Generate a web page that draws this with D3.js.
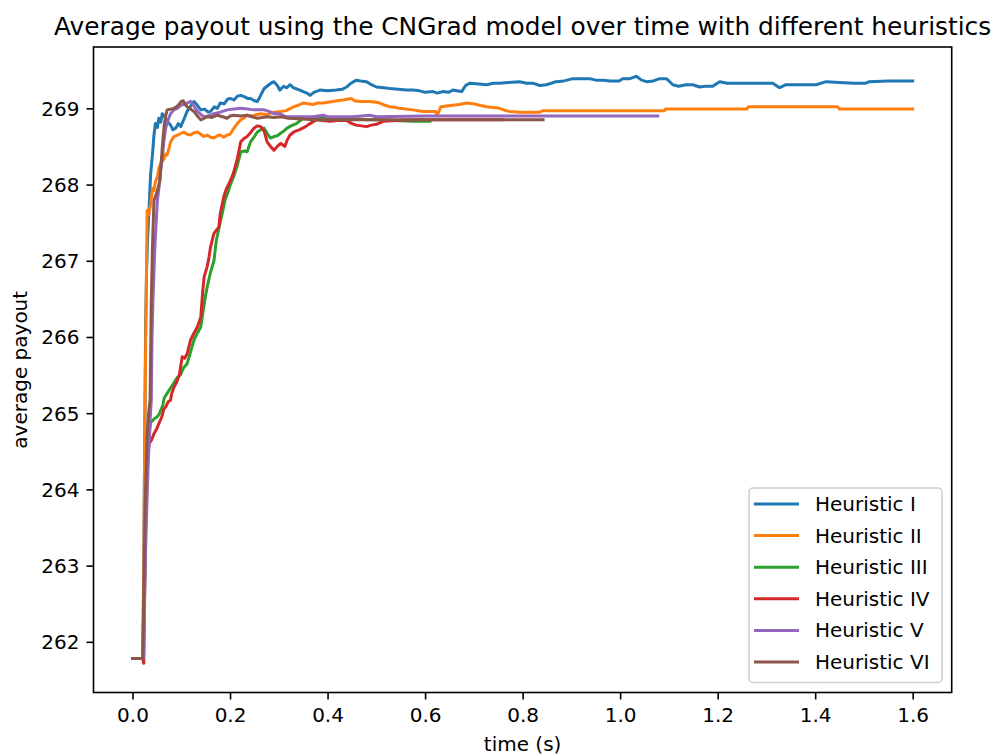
<!DOCTYPE html>
<html>
<head>
<meta charset="utf-8">
<script src="https://cdn.jsdelivr.net/npm/d3@7"></script>
<style>
  html, body { margin: 0; padding: 0; background: #fff; }
  svg text { font-family: "DejaVu Sans", sans-serif; fill: #000; }
</style>
</head>
<body>
<svg id="chart" width="996" height="756"></svg>
<script>
// Average payout [t (s), payout] for each heuristic
const heuristicI = [[0,261.78],[0.021,261.78],[0.023,263.0],[0.025,264.6],[0.027,266.2],[0.029,266.9],[0.031,267.3],[0.034,267.69],[0.037,268.12],[0.041,268.4],[0.044,268.65],[0.047,268.8],[0.051,268.75],[0.054,268.87],[0.058,268.82],[0.061,268.93],[0.065,268.9],[0.068,268.87],[0.073,268.82],[0.078,268.78],[0.083,268.72],[0.0885,268.74],[0.094,268.8],[0.099,268.76],[0.105,268.85],[0.112,268.96],[0.118,269.02],[0.126,269.09],[0.133,269.04],[0.14,268.98],[0.148,268.99],[0.155,268.95],[0.16,268.96],[0.168,269.02],[0.174,269.0],[0.18,269.07],[0.188,269.06],[0.195,269.12],[0.2,269.13],[0.208,269.11],[0.215,269.16],[0.222,269.17],[0.23,269.15],[0.236,269.13],[0.242,269.13],[0.25,269.1],[0.256,269.09],[0.262,269.16],[0.27,269.26],[0.278,269.3],[0.284,269.33],[0.29,269.35],[0.297,269.3],[0.302,269.24],[0.31,269.29],[0.316,269.27],[0.323,269.31],[0.33,269.27],[0.343,269.24],[0.35,269.22],[0.358,269.2],[0.364,269.17],[0.372,269.21],[0.384,269.24],[0.4,269.23],[0.418,269.24],[0.43,269.25],[0.439,269.28],[0.448,269.33],[0.459,269.37],[0.468,269.36],[0.48,269.35],[0.49,269.31],[0.5,269.28],[0.515,269.27],[0.528,269.26],[0.545,269.25],[0.562,269.24],[0.575,269.24],[0.589,269.23],[0.6,269.21],[0.616,269.22],[0.625,269.2],[0.636,269.22],[0.648,269.21],[0.657,269.24],[0.665,269.23],[0.675,269.22],[0.683,269.3],[0.692,269.33],[0.71,269.32],[0.726,269.31],[0.74,269.33],[0.753,269.33],[0.77,269.34],[0.794,269.35],[0.808,269.33],[0.821,269.33],[0.835,269.3],[0.849,269.31],[0.869,269.35],[0.885,269.36],[0.903,269.39],[0.92,269.39],[0.9375,269.39],[0.95,269.37],[0.965,269.37],[0.98,269.36],[0.999,269.36],[1.005,269.39],[1.02,269.39],[1.033,269.42],[1.044,269.37],[1.054,269.35],[1.068,269.36],[1.081,269.39],[1.095,269.39],[1.108,269.31],[1.12,269.29],[1.135,269.31],[1.149,269.31],[1.163,269.28],[1.175,269.29],[1.19,269.29],[1.204,269.35],[1.22,269.33],[1.24,269.33],[1.272,269.33],[1.29,269.33],[1.313,269.33],[1.327,269.27],[1.34,269.31],[1.37,269.31],[1.402,269.31],[1.4225,269.35],[1.45,269.34],[1.48,269.33],[1.504,269.33],[1.511,269.35],[1.55,269.36],[1.6,269.36]];

const heuristicII = [[0,261.78],[0.021,261.78],[0.023,262.6],[0.024,263.8],[0.025,264.6],[0.026,265.3],[0.028,266.5],[0.03,267.66],[0.033,267.6],[0.037,267.73],[0.041,267.95],[0.044,267.92],[0.047,268.04],[0.051,268.1],[0.054,268.21],[0.058,268.28],[0.065,268.34],[0.068,268.4],[0.071,268.39],[0.075,268.48],[0.078,268.56],[0.085,268.63],[0.092,268.65],[0.099,268.67],[0.105,268.69],[0.112,268.66],[0.119,268.65],[0.126,268.68],[0.133,268.69],[0.14,268.66],[0.146,268.63],[0.153,268.65],[0.16,268.62],[0.167,268.61],[0.174,268.64],[0.18,268.65],[0.187,268.62],[0.194,268.65],[0.2,268.66],[0.208,268.74],[0.215,268.8],[0.222,268.85],[0.23,268.88],[0.235,268.91],[0.245,268.9],[0.255,268.92],[0.263,268.93],[0.275,268.92],[0.29,268.95],[0.304,268.96],[0.315,268.97],[0.33,269.02],[0.34,269.04],[0.35,269.07],[0.36,269.06],[0.37,269.05],[0.38,269.07],[0.391,269.07],[0.4,269.08],[0.411,269.09],[0.42,269.1],[0.432,269.11],[0.44,269.12],[0.449,269.13],[0.455,269.1],[0.466,269.09],[0.487,269.09],[0.5,269.08],[0.507,269.07],[0.518,269.04],[0.528,269.02],[0.54,269.01],[0.548,269.0],[0.56,268.99],[0.575,268.98],[0.596,268.96],[0.616,268.96],[0.622,268.96],[0.624,268.91],[0.628,268.95],[0.632,269.02],[0.645,269.03],[0.657,269.04],[0.67,269.05],[0.685,269.07],[0.698,269.06],[0.712,269.04],[0.726,269.02],[0.74,269.01],[0.753,269.0],[0.765,268.97],[0.774,268.96],[0.794,268.95],[0.835,268.95],[0.842,268.97],[1.091,268.97],[1.093,268.99],[1.26,268.99],[1.263,269.02],[1.446,269.02],[1.45,268.99],[1.6,268.99]];

const heuristicIII = [[0,261.78],[0.021,261.78],[0.023,262.2],[0.025,262.9],[0.027,263.6],[0.029,264.1],[0.031,264.4],[0.034,264.7],[0.037,264.88],[0.041,264.9],[0.045,264.93],[0.05,264.95],[0.054,264.98],[0.058,265.04],[0.062,265.1],[0.065,265.2],[0.07,265.25],[0.075,265.3],[0.08,265.35],[0.086,265.41],[0.092,265.47],[0.098,265.5],[0.105,265.6],[0.112,265.65],[0.118,265.78],[0.126,265.96],[0.133,266.05],[0.14,266.13],[0.145,266.35],[0.15,266.55],[0.153,266.65],[0.16,266.85],[0.167,267.0],[0.172,267.27],[0.178,267.45],[0.184,267.62],[0.19,267.8],[0.197,267.92],[0.2,267.99],[0.207,268.1],[0.215,268.25],[0.222,268.43],[0.23,268.44],[0.235,268.43],[0.242,268.56],[0.25,268.63],[0.256,268.69],[0.263,268.72],[0.27,268.74],[0.277,268.66],[0.283,268.61],[0.29,268.63],[0.297,268.64],[0.305,268.68],[0.31,268.7],[0.317,268.74],[0.325,268.77],[0.336,268.8],[0.35,268.87],[0.37,268.87],[0.391,268.88],[0.41,268.87],[0.439,268.86],[0.46,268.86],[0.48,268.85],[0.51,268.85],[0.54,268.84],[0.575,268.83],[0.61,268.83]];

const heuristicIV = [[0,261.78],[0.021,261.78],[0.023,261.72],[0.024,262.3],[0.026,263.2],[0.028,263.8],[0.03,264.2],[0.032,264.45],[0.034,264.6],[0.039,264.65],[0.044,264.73],[0.05,264.8],[0.055,264.88],[0.06,264.95],[0.064,265.05],[0.068,265.08],[0.073,265.15],[0.078,265.17],[0.08,265.25],[0.085,265.34],[0.09,265.4],[0.096,265.5],[0.102,265.74],[0.107,265.72],[0.112,265.78],[0.119,265.96],[0.126,266.05],[0.133,266.13],[0.14,266.26],[0.144,266.6],[0.147,266.79],[0.153,266.92],[0.157,267.05],[0.16,267.18],[0.167,267.36],[0.172,267.4],[0.177,267.44],[0.18,267.62],[0.1875,267.85],[0.193,267.95],[0.2,268.04],[0.207,268.15],[0.215,268.34],[0.222,268.56],[0.228,268.6],[0.235,268.63],[0.242,268.68],[0.249,268.74],[0.256,268.77],[0.263,268.76],[0.27,268.7],[0.276,268.56],[0.283,268.5],[0.29,268.45],[0.297,268.5],[0.304,268.54],[0.3125,268.5],[0.317,268.58],[0.323,268.65],[0.331,268.69],[0.343,268.72],[0.355,268.76],[0.364,268.8],[0.377,268.85],[0.39,268.84],[0.405,268.83],[0.42,268.84],[0.439,268.84],[0.45,268.8],[0.459,268.78],[0.48,268.76],[0.49,268.78],[0.5,268.79],[0.514,268.83],[0.54,268.84],[0.575,268.85],[0.62,268.85],[0.671,268.85],[0.72,268.85],[0.76,268.85]];

const heuristicV = [[0,261.78],[0.021,261.78],[0.023,261.8],[0.025,262.6],[0.028,263.5],[0.032,264.3],[0.036,264.9],[0.0385,265.17],[0.04,266.0],[0.042,266.5],[0.046,267.2],[0.051,267.79],[0.055,268.0],[0.058,268.2],[0.061,268.34],[0.064,268.55],[0.068,268.74],[0.073,268.85],[0.078,268.93],[0.085,268.98],[0.092,269.0],[0.099,269.04],[0.105,269.05],[0.112,269.07],[0.119,269.09],[0.126,269.03],[0.133,268.96],[0.14,268.92],[0.147,268.89],[0.155,268.9],[0.167,268.93],[0.18,268.95],[0.194,268.98],[0.208,268.99],[0.222,269.0],[0.236,268.99],[0.249,268.98],[0.27,268.98],[0.28,268.96],[0.29,268.93],[0.302,268.93],[0.315,268.89],[0.34,268.89],[0.37,268.89],[0.38,268.9],[0.391,268.91],[0.4,268.89],[0.43,268.89],[0.452,268.89],[0.487,268.91],[0.5,268.89],[0.6,268.9],[0.8,268.9],[1.077,268.9]];

const heuristicVI = [[0,261.78],[0.021,261.78],[0.023,262.5],[0.026,263.8],[0.03,264.7],[0.033,265.0],[0.036,265.17],[0.0385,266.48],[0.041,267.2],[0.044,267.79],[0.05,267.9],[0.056,268.04],[0.061,268.48],[0.065,268.78],[0.068,268.9],[0.071,268.98],[0.078,268.99],[0.085,269.0],[0.09,269.02],[0.095,269.05],[0.1,269.09],[0.104,269.1],[0.108,269.05],[0.112,269.02],[0.119,268.99],[0.126,268.96],[0.133,268.9],[0.14,268.85],[0.147,268.87],[0.153,268.89],[0.163,268.88],[0.174,268.91],[0.185,268.89],[0.194,268.87],[0.2,268.9],[0.208,268.91],[0.222,268.9],[0.235,268.91],[0.245,268.89],[0.256,268.87],[0.266,268.88],[0.276,268.89],[0.29,268.88],[0.304,268.89],[0.32,268.87],[0.35,268.86],[0.37,268.85],[0.45,268.85],[0.6,268.85],[0.842,268.85]];

const seriesNames = ["Heuristic I", "Heuristic II", "Heuristic III", "Heuristic IV", "Heuristic V", "Heuristic VI"];
const seriesData = [heuristicI, heuristicII, heuristicIII, heuristicIV, heuristicV, heuristicVI];
const seriesColors = ["#1f77b4", "#ff7f0e", "#2ca02c", "#d62728", "#9467bd", "#8c564b"];

const xTicks = [0, 0.2, 0.4, 0.6, 0.8, 1.0, 1.2, 1.4, 1.6];
const yTicks = [262, 263, 264, 265, 266, 267, 268, 269];

const titleText = "Average payout using the CNGrad model over time with different heuristics";
const xLabel = "time (s)";
const yLabel = "average payout";

// Plot frame
const plot = { left: 93.5, right: 951.7, top: 47, bottom: 692.5 };
const svg = d3.select("#chart");

// Domains padded by 5% of the data span on each side
const allPts = seriesData.flat();
const pad = ([lo, hi]) => { const m = (hi - lo) * 0.05; return [lo - m, hi + m]; };
const x = d3.scaleLinear().domain(pad(d3.extent(allPts, d => d[0]))).range([plot.left, plot.right]);
const y = d3.scaleLinear().domain(pad(d3.extent(allPts, d => d[1]))).range([plot.bottom, plot.top]);

svg.append("clipPath").attr("id", "plotClip")
  .append("rect")
  .attr("x", plot.left).attr("y", plot.top)
  .attr("width", plot.right - plot.left).attr("height", plot.bottom - plot.top);

// Lines
const line = d3.line().x(d => x(d[0])).y(d => y(d[1]));
const lines = svg.append("g").attr("clip-path", "url(#plotClip)");
seriesData.forEach((data, i) => {
  lines.append("path")
    .datum(data)
    .attr("d", line)
    .attr("fill", "none")
    .attr("stroke", seriesColors[i])
    .attr("stroke-width", 3)
    .attr("stroke-linejoin", "round")
    .attr("stroke-linecap", "square");
});

// Axes
const xAxis = d3.axisBottom(x).tickValues(xTicks).tickFormat(d3.format(".1f")).tickSize(7).tickPadding(7).tickSizeOuter(0);
const yAxis = d3.axisLeft(y).tickValues(yTicks).tickFormat(d3.format("d")).tickSize(7).tickPadding(7).tickSizeOuter(0);

const gx = svg.append("g").attr("transform", `translate(0,${plot.bottom})`).call(xAxis);
const gy = svg.append("g").attr("transform", `translate(${plot.left},0)`).call(yAxis);
[gx, gy].forEach(g => {
  g.select(".domain").remove();
  g.selectAll(".tick line").attr("stroke", "#000").attr("stroke-width", 1.6);
  g.selectAll(".tick text").attr("font-size", 20).attr("font-family", "DejaVu Sans").attr("fill", "#000");
});
gx.selectAll(".tick text").attr("dy", "0.78em");
gy.selectAll(".tick text").attr("dy", "0.35em");

// Spines
svg.append("rect")
  .attr("x", plot.left).attr("y", plot.top)
  .attr("width", plot.right - plot.left).attr("height", plot.bottom - plot.top)
  .attr("fill", "none").attr("stroke", "#000").attr("stroke-width", 1.6);

// Title and axis labels
svg.append("text")
  .attr("x", (plot.left + plot.right) / 2).attr("y", 35)
  .attr("text-anchor", "middle").attr("font-size", 24.8)
  .text(titleText);

svg.append("text")
  .attr("x", (plot.left + plot.right) / 2).attr("y", 751)
  .attr("text-anchor", "middle").attr("font-size", 20)
  .text(xLabel);

svg.append("text")
  .attr("transform", `translate(27,${(plot.top + plot.bottom) / 2}) rotate(-90)`)
  .attr("text-anchor", "middle").attr("font-size", 20)
  .text(yLabel);

// Legend
const legend = { x: 749, y: 488, w: 193, h: 194.5, rowGap: 31.6, firstRow: 16 };
const lg = svg.append("g");
lg.append("rect")
  .attr("x", legend.x).attr("y", legend.y)
  .attr("width", legend.w).attr("height", legend.h)
  .attr("rx", 4).attr("ry", 4)
  .attr("fill", "#fff").attr("fill-opacity", 0.8)
  .attr("stroke", "#cccccc").attr("stroke-width", 1.5);
seriesNames.forEach((name, i) => {
  const cy = legend.y + legend.firstRow + i * legend.rowGap;
  lg.append("line")
    .attr("x1", legend.x + 5).attr("x2", legend.x + 50)
    .attr("y1", cy).attr("y2", cy)
    .attr("stroke", seriesColors[i]).attr("stroke-width", 3);
  lg.append("text")
    .attr("x", legend.x + 66).attr("y", cy)
    .attr("dy", "0.35em").attr("font-size", 20)
    .text(name);
});
</script>
</body>
</html>
